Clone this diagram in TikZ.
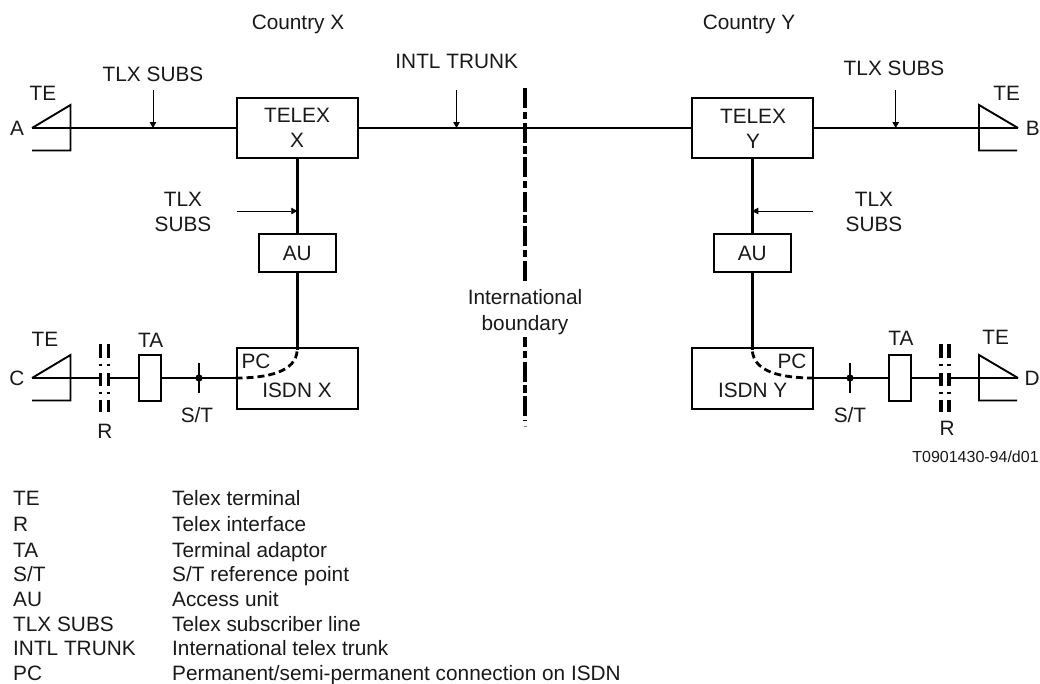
\documentclass[tikz,border=0pt]{standalone}
\usepackage{fontspec}
\setmainfont{Liberation Sans}
\usetikzlibrary{arrows.meta}
\tikzset{
  txt/.style={inner sep=0pt,font=\fontsize{20.8}{25}\selectfont,text=black!90,text height=14.9pt,text depth=0pt},
  mtxt/.style={inner sep=0pt,font=\fontsize{20.8}{25}\selectfont,text=black!90,align=center},
  lg/.style={txt,anchor=west},
  boxn/.style={draw,line width=2pt,inner sep=0pt,minimum width=#1},
  mainl/.style={line width=2.5pt},
  vertl/.style={line width=2.8pt},
  thinl/.style={line width=1.6pt},
  term/.style={line width=1.9pt},
  ptr/.style={line width=.9pt,-{Triangle[length=6pt,width=6.5pt]}},
  bnd/.style={line width=4pt,dash pattern=on 20pt off 3.6pt on 7.4pt off 3.6pt},
  rdash/.style={line width=3.4pt,dash pattern=on 14pt off 5.5pt on 2pt off 7.5pt on 13pt off 5.5pt on 2pt off 6pt},
  pcl/.style={line width=2.8pt,dash pattern=on 7pt off 4pt},
}
\begin{document}
\begin{tikzpicture}[x=1pt,y=-1pt]
\useasboundingbox (0,0) rectangle (1040,683);
% boxes
\node[boxn=121.5pt,minimum height=60.5pt] (tx) at (297.25,128) {};
\node[boxn=121.5pt,minimum height=60.5pt] (ty) at (752.25,128) {};
\node[boxn=77pt,minimum height=38pt] (aux) at (297.25,253) {};
\node[boxn=77pt,minimum height=38pt] (auy) at (752.25,253) {};
\node[boxn=121.5pt,minimum height=61pt] (ix) at (297.25,378) {};
\node[boxn=121.5pt,minimum height=61pt] (iy) at (752.25,378) {};
\node[boxn=22.5pt,minimum height=45.5pt] (tax) at (149.75,378) {};
\node[boxn=22.5pt,minimum height=45.5pt] (tay) at (899.75,378) {};
% named points
\coordinate (A) at (32,128);
\coordinate (B) at (1018,128);
\coordinate (C) at (32,378);
\coordinate (D) at (1018,378);
\coordinate (rxa) at (100.5,378);
\coordinate (rxb) at (108.5,378);
\coordinate (rya) at (941,378);
\coordinate (ryb) at (949,378);
\coordinate (stx) at (199,378);
\coordinate (sty) at (850,378);
\coordinate (bt) at (525,88);
\coordinate (bm) at (525,283);
\coordinate (bn) at (525,337);
\coordinate (bb) at (525,421);
\coordinate (jx) at (297.25,350);
\coordinate (jy) at (752.25,350);
% main lines
\draw[mainl] (A) -- (tx.west);
\draw[mainl] (tx.east) -- (ty.west);
\draw[mainl] (ty.east) -- (B);
\draw[vertl] (tx.south) -- (aux.north);
\draw[vertl] (ty.south) -- (auy.north);
\draw[vertl] (aux.south) -- (jx);
\draw[vertl] (auy.south) -- (jy);
\draw[thinl] (C) -- (rxa);
\draw[mainl] (rxb) -- (tax.west);
\draw[mainl] (tax.east) -- (ix.west);
\draw[thinl] (D) -- (ryb);
\draw[mainl] (rya) -- (tay.east);
\draw[mainl] (tay.west) -- (iy.east);
% terminals
\draw[term] (A) -- (70.5,105) -- (70.5,150.5) -- (32,150.5);
\draw[term] (B) -- (979,105) -- (979,150.5) -- (1017,150.5);
\draw[term] (C) -- (70.5,355) -- (70.5,400.5) -- (32,400.5);
\draw[term] (D) -- (979,355) -- (979,400.5) -- (1017,400.5);
% interface R
\draw[rdash] (100.5,344) -- (100.5,412);
\draw[rdash] (108.3,344) -- (108.3,412);
\draw[rdash] (941,344) -- (941,412);
\draw[rdash] (949,344) -- (949,412);
% S/T
\draw[line width=2pt] (199,363) -- (199,393);
\draw[line width=2pt] (850,363) -- (850,393);
\fill (stx) circle (3.6pt);
\fill (sty) circle (3.6pt);
% PC
\draw[pcl] (ix.west) .. controls (268,378) and (296,372) .. (jx);
\draw[pcl] (iy.east) .. controls (781,378) and (753.5,372) .. (jy);
% boundary
\draw[bnd] (bt) -- (bm);
\draw[bnd,dash phase=10pt] (bn) -- (bb);
\draw[line width=3pt,black!50] (525,425.5) -- (525,426.5);
% pointers
\coordinate (p1) at (153,128); \coordinate (p2) at (456.5,128);
\coordinate (p3) at (895.7,128); \coordinate (p4) at (297.25,211); \coordinate (p5) at (752.25,211);
\draw[ptr] (153,90) -- (p1);
\draw[ptr] (456.5,90) -- (p2);
\draw[ptr] (895.7,90) -- (p3);
\draw[ptr] (236.7,211) -- (p4);
\draw[ptr] (812.7,211) -- (p5);
% labels
\node[txt] (cx) at (298,22) {Country X};
\node[txt] (cy) at (749,22) {Country Y};
\node[txt] (l1) at (153,74) {TLX SUBS};
\node[txt] (l2) at (456.7,61) {INTL TRUNK};
\node[txt] (l3) at (894,68) {TLX SUBS};
\node[txt] (te1) at (43,93) {TE};
\node[txt] (te2) at (1006.7,92.7) {TE};
\node[txt] (a) at (17,128) {A};
\node[txt] (b) at (1032.7,128) {B};
\node[txt] (c) at (17,378) {C};
\node[txt] (d) at (1032,378) {D};
\node[mtxt] (t1) at (297,127.5) {TELEX\\X};
\node[mtxt] (t2) at (753,128.5) {TELEX\\Y};
\node[mtxt] (s1) at (183,211.5) {TLX\\SUBS};
\node[mtxt] (s2) at (874,212) {TLX\\SUBS};
\node[txt] (au1) at (aux) {AU};
\node[txt] (au2) at (auy) {AU};
\node[mtxt] (ib) at (525,312) {International\\[1pt]boundary};
\node[txt] (te3) at (45,339) {TE};
\node[txt] (te4) at (995.7,337) {TE};
\node[txt] (ta1) at (150.7,340) {TA};
\node[txt] (ta2) at (901,338) {TA};
\node[txt] (pc1) at (256,361) {PC};
\node[txt] (pc2) at (792,361) {PC};
\node[txt] (i1) at (297,390) {ISDN X};
\node[txt] (i2) at (752.7,390) {ISDN Y};
\node[txt] (st1) at (197,415) {S/T};
\node[txt] (st2) at (850,415) {S/T};
\node[txt] (r1) at (105,431) {R};
\node[txt] (r2) at (947,428) {R};
\node[inner sep=0pt,font=\fontsize{16}{19}\selectfont,text=black!90,text height=11.5pt,text depth=0pt] (code) at (975.5,457) {T0901430-94/d01};
% legend
\foreach \y/\k/\v [count=\n] in {
 498/TE/Telex terminal,
 524/R/Telex interface,
 550/TA/Terminal adaptor,
 574/S\slash T/S\slash T reference point,
 599/AU/Access unit,
 624/TLX SUBS/Telex subscriber line,
 648/INTL TRUNK/International telex trunk,
 673/PC/Permanent\slash semi-permanent connection on ISDN}{
  \node[lg] (k\n) at (13,\y) {\k};
  \node[lg] (v\n) at (172,\y) {\v};
}
\end{tikzpicture}
\end{document}
